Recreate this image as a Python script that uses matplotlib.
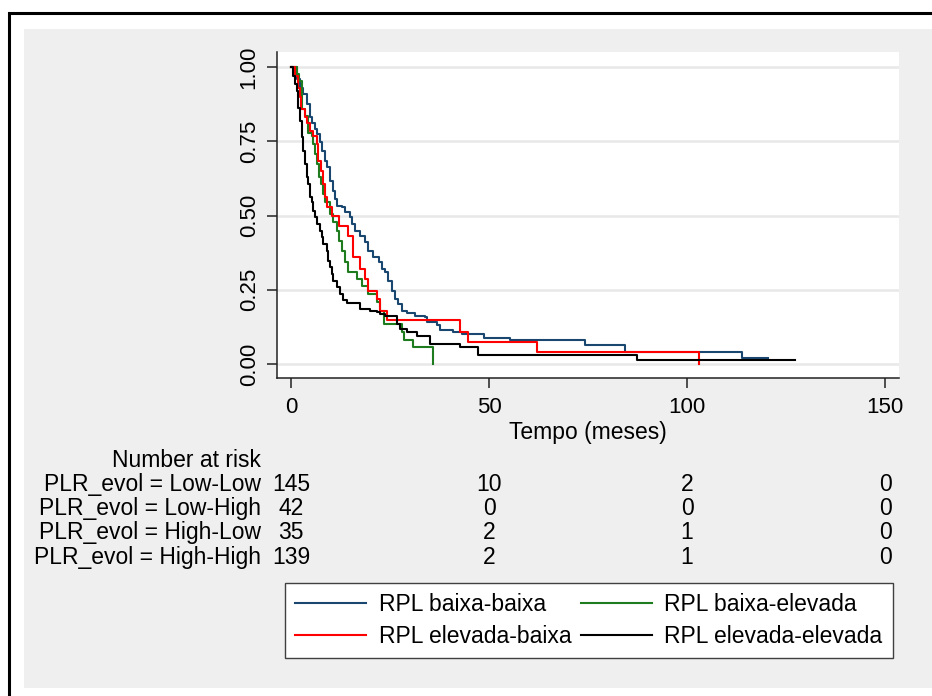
import matplotlib
matplotlib.use("Agg")
import matplotlib.pyplot as plt
from matplotlib.patches import Rectangle
from matplotlib.transforms import blended_transform_factory

plt.rcParams['font.family'] = ['Liberation Sans', 'DejaVu Sans']

# ---- data (Kaplan-Meier step curves) ----
blue_t = [0, 1.4, 2.2, 3.1, 4.0, 4.8, 5.4, 6.1, 6.5, 7.2, 7.7, 8.6, 9.0, 9.9, 10.7, 11.1, 11.7, 12.8, 13.6, 14.9,
          15.3, 16.2, 17.4, 18.7, 19.5, 20.8, 22.1, 22.9, 23.7, 24.6, 25.4, 26.3, 27.1, 27.9, 29.2, 31.3, 33.8, 34.3,
          36.8, 37.6, 41.0, 43.1, 48.7, 55.3, 74.2, 84.3, 113.8, 120.5]
blue_s = [1.0, 0.96, 0.93, 0.908, 0.875, 0.830, 0.813, 0.790, 0.774, 0.746, 0.718, 0.684, 0.662, 0.617, 0.583, 0.555,
          0.533, 0.527, 0.511, 0.494, 0.471, 0.449, 0.432, 0.410, 0.382, 0.359, 0.343, 0.320, 0.309, 0.281, 0.247, 0.219,
          0.203, 0.180, 0.171, 0.163, 0.158, 0.141, 0.130, 0.113, 0.107, 0.102, 0.089, 0.081, 0.064, 0.041, 0.021, 0.021]

green_t = [0, 1.43, 2.1, 2.7, 3.5, 4.4, 5.2, 5.64, 6.06, 6.65, 7.15, 7.5, 8.0, 8.6, 9.85, 10.7, 11.5, 12.2, 12.8, 13.6,
           14.5, 16.6, 17.8, 19.5, 21.6, 22.5, 23.5, 27.9, 28.4, 30.9, 35.9]
green_s = [1.0, 0.976, 0.953, 0.858, 0.835, 0.779, 0.768, 0.740, 0.707, 0.673, 0.628, 0.606, 0.572, 0.544, 0.505, 0.477,
           0.449, 0.415, 0.382, 0.343, 0.309, 0.287, 0.264, 0.236, 0.208, 0.180, 0.136, 0.107, 0.080, 0.057, 0.0]

red_t = [0, 1.0, 1.85, 2.27, 2.44, 3.5, 3.96, 4.8, 5.64, 6.65, 6.9, 7.5, 8.0, 8.6, 9.0, 10.3, 12.0, 14.5, 15.7, 17.3,
         18.7, 19.5, 21.6, 22.5, 24.2, 42.7, 44.8, 62.0, 102.9]
red_s = [1.0, 0.97, 0.93, 0.90, 0.858, 0.83, 0.813, 0.785, 0.768, 0.740, 0.684, 0.651, 0.606, 0.561, 0.527, 0.497,
         0.466, 0.432, 0.359, 0.320, 0.287, 0.247, 0.219, 0.180, 0.147, 0.107, 0.074, 0.039, 0.0]

black_t = [0, 0.6, 1.0, 1.43, 1.85, 2.27, 2.7, 3.1, 3.5, 3.96, 4.4, 4.8, 5.2, 5.64, 6.06, 6.5, 7.3, 7.74, 8.2, 9.0,
           9.4, 9.85, 10.3, 10.7, 11.5, 12.4, 13.2, 14.1, 17.4, 19.9, 21.6, 22.5, 23.7, 26.7, 27.5, 29.2, 31.7, 35.1,
           42.7, 47.3, 87.3, 127.3]
black_s = [1.0, 0.97, 0.942, 0.919, 0.863, 0.819, 0.763, 0.718, 0.673, 0.628, 0.606, 0.561, 0.544, 0.516, 0.494, 0.471,
           0.449, 0.427, 0.404, 0.382, 0.348, 0.326, 0.303, 0.281, 0.259, 0.236, 0.214, 0.205, 0.186, 0.180, 0.175, 0.169,
           0.163, 0.136, 0.119, 0.107, 0.096, 0.066, 0.057, 0.029, 0.013, 0.013]

series_labels = ["RPL baixa-baixa", "RPL baixa-elevada", "RPL elevada-baixa", "RPL elevada-elevada"]
series_colors = ["#1a476f", "#1e7b1e", "#ff0000", "#000000"]

x_ticks = [0, 50, 100, 150]
y_ticks = [0.0, 0.25, 0.50, 0.75, 1.00]
y_tick_labels = ["0.00", "0.25", "0.50", "0.75", "1.00"]
x_label = "Tempo (meses)"

risk_title = "Number at risk"
risk_times = [0, 50, 100, 150]
risk_groups = ["PLR_evol = Low-Low", "PLR_evol = Low-High", "PLR_evol = High-Low", "PLR_evol = High-High"]
risk_low_low = [145, 10, 2, 0]
risk_low_high = [42, 0, 0, 0]
risk_high_low = [35, 2, 1, 0]
risk_high_high = [139, 2, 1, 0]

# ---- figure ----
W, H = 932, 696
fig = plt.figure(figsize=(W / 100, H / 100), dpi=100, facecolor="white")

def fx(px):
    return px / W

def fy(py):
    return 1 - py / H

# grey background panel and black frame
fig.patches.append(Rectangle((fx(24), fy(688)), 1.0, fy(29) - fy(688), transform=fig.transFigure,
                             facecolor="#efefef", edgecolor="none", zorder=-10))
fig.patches.append(Rectangle((fx(9), -0.5), 2.0, fy(13) + 0.5, transform=fig.transFigure,
                             facecolor="none", edgecolor="black", linewidth=2.2, zorder=-9))

ax = fig.add_axes([fx(277), fy(378), fx(899) - fx(277), fy(52) - fy(378)])
ax.set_facecolor("white")
ax.set_zorder(1)

FS = 16.5
TFS = 16.0

lines = {}
for t, s, lab, col in zip([blue_t, green_t, red_t, black_t], [blue_s, green_s, red_s, black_s],
                          series_labels, series_colors):
    ln, = ax.step(t, s, where="post", color=col, linewidth=1.5, label=lab)
    lines[lab] = ln

ax.set_xlim(-3.54, 153.5)
ax.set_ylim(-0.047, 1.0505)
ax.set_xticks(x_ticks)
ax.set_yticks(y_ticks)
ax.set_yticklabels(y_tick_labels, rotation=90, va="center")
ax.grid(axis="y", color="#e8e8e8", linewidth=1.8)
ax.set_axisbelow(True)
for side in ["top", "right"]:
    ax.spines[side].set_visible(False)
for side in ["left", "bottom"]:
    ax.spines[side].set_color("#222222")
    ax.spines[side].set_linewidth(1.1)
ax.tick_params(axis="both", direction="out", length=7, width=1.1, color="#222222", labelsize=TFS)
ax.tick_params(axis="x", pad=6.5)
ax.tick_params(axis="y", pad=5.5)
ax.set_xlabel(x_label, fontsize=FS, labelpad=2)

# number-at-risk table
tr = blended_transform_factory(ax.transData, fig.transFigure)
fig.text(fx(261), fy(467), risk_title, ha="right", va="baseline", fontsize=FS)
row_y = [491, 515, 539, 564]
for name, vals, py in zip(risk_groups, [risk_low_low, risk_low_high, risk_high_low, risk_high_high], row_y):
    fig.text(fx(261), fy(py), name, ha="right", va="baseline", fontsize=FS)
    for tt, v in zip(risk_times, vals):
        ax.text(tt, fy(py), str(v), transform=tr, ha="center", va="baseline", fontsize=FS, clip_on=False)

# legend
order = ["RPL baixa-baixa", "RPL elevada-baixa", "RPL baixa-elevada", "RPL elevada-elevada"]
leg = fig.legend([lines[k] for k in order], order, ncol=2, loc="upper left",
                 bbox_to_anchor=(fx(285), fy(583)), fontsize=FS, frameon=True, fancybox=False,
                 handlelength=3.1, handletextpad=0.55, columnspacing=0.4, borderpad=0.45,
                 labelspacing=0.36, borderaxespad=0, framealpha=1)
leg.get_frame().set_edgecolor("#404040")
leg.get_frame().set_linewidth(1.0)
leg.set_zorder(2)

fig.savefig("out.png", dpi=100, facecolor="white")
